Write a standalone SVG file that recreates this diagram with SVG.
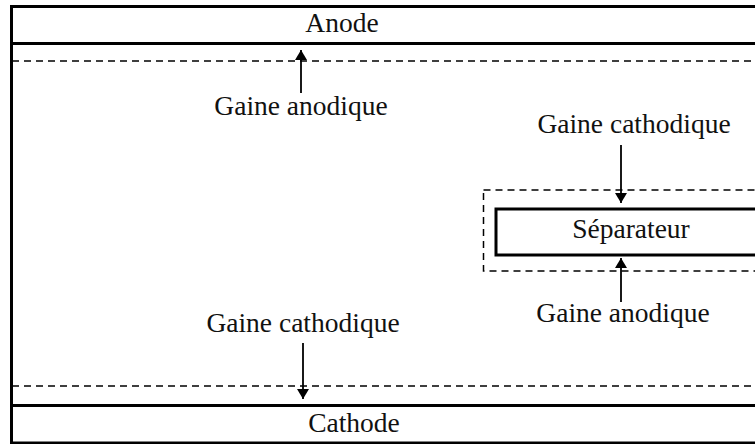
<svg xmlns="http://www.w3.org/2000/svg" width="755" height="444" viewBox="0 0 755 444">
<style>
.solid{fill:none;stroke:#000;stroke-width:3}
.dash{fill:none;stroke:#000;stroke-width:1.5;stroke-dasharray:7 5}
.lbl{font-family:"Liberation Serif","Times New Roman",serif;font-size:27.5px;fill:#111;text-anchor:middle}
.conn{stroke:#000;stroke-width:1.8;fill:none;marker-end:url(#ah)}
</style>
<defs>
<marker id="ah" viewBox="0 0 10 12" refX="10" refY="6" markerWidth="10" markerHeight="12" markerUnits="userSpaceOnUse" orient="auto">
<path d="M0,0 L10,6 L0,12 Z" fill="#000"/>
</marker>
</defs>
<rect width="755" height="444" fill="#fff"/>
<g id="frame">
<rect class="solid" x="11.5" y="6.5" width="760" height="436.5"/>
</g>
<g id="anode">
<line class="solid" x1="11" y1="43.5" x2="755" y2="43.5"/>
<text class="lbl" x="342" y="32">Anode</text>
</g>
<g id="anode-sheath">
<line class="dash" x1="12" y1="61" x2="755" y2="61"/>
<text class="lbl" x="301" y="115">Gaine anodique</text>
</g>
<g id="cathode-sheath">
<line class="dash" x1="12" y1="386" x2="755" y2="386"/>
<text class="lbl" x="303" y="332">Gaine cathodique</text>
</g>
<g id="cathode">
<line class="solid" x1="11" y1="405.5" x2="755" y2="405.5"/>
<text class="lbl" x="354" y="432">Cathode</text>
</g>
<g id="separator">
<rect class="dash" x="483.5" y="190" width="290" height="81"/>
<rect class="solid" x="496" y="209" width="280" height="46" stroke-width="3.5"/>
<text class="lbl" x="631" y="238">Séparateur</text>
</g>
<g id="sep-cathode-sheath">
<text class="lbl" x="634" y="133">Gaine cathodique</text>
</g>
<g id="sep-anode-sheath">
<text class="lbl" x="623" y="322">Gaine anodique</text>
</g>
<g id="connectors">
<line class="conn" x1="301" y1="93" x2="301" y2="50"/>
<line class="conn" x1="303" y1="343" x2="303" y2="399"/>
<line class="conn" x1="621" y1="145" x2="621" y2="203"/>
<line class="conn" x1="621" y1="302" x2="621" y2="258"/>
</g>
</svg>
